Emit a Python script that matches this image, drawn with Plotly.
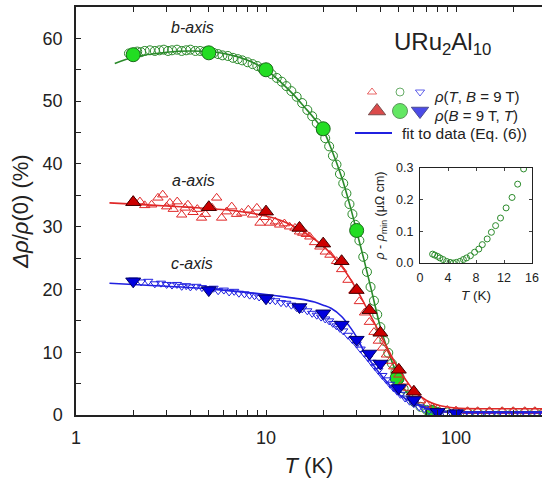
import plotly.graph_objects as go

# ---------------- data ----------------
# b-axis (green), open circles: rho(T, B = 9 T)
b_T = [1.9, 2.0, 2.1, 2.2, 2.3, 2.45, 2.6, 2.75, 2.9, 3.05, 3.2, 3.4, 3.6, 3.8, 4.0, 4.25, 4.5, 4.75,
       5.0, 5.3, 5.6, 5.9, 6.3, 6.7, 7.1, 7.5, 8.0, 8.5, 9.0, 9.5, 10.0, 10.7, 11.4, 12.1, 12.8, 13.6,
       14.5, 15.5, 16.5, 17.5, 18.5, 19.5, 20.5, 21.5, 22.5, 23.5, 24.5, 25.5, 26.5, 27.5, 28.5, 29.5,
       31, 32.5, 34, 35.5, 37, 38.5, 40, 42, 44, 46, 48, 50, 53, 56, 60, 65, 70, 75, 80, 90, 100,
       115, 130, 150, 175, 200, 230, 260, 290]
b_open = [57.6, 57.7, 57.9, 57.8, 58.0, 58.1, 58.0, 58.1, 58.2, 58.0, 58.1, 58.2, 58.0, 58.1, 58.2, 58.0,
          58.0, 57.9, 57.8, 57.7, 57.5, 57.3, 57.2, 56.9, 56.7, 56.5, 56.2, 55.9, 55.6, 55.2, 54.8, 54.3,
          53.7, 53.1, 52.4, 51.6, 50.7, 49.7, 48.6, 47.6, 46.5, 45.3, 44.1, 42.8, 41.3, 39.9, 38.4, 36.9,
          35.3, 33.6, 32.0, 30.3, 27.8, 25.2, 22.8, 20.4, 18.2, 16.0, 14.0, 11.8, 9.9, 8.2, 6.8, 5.6,
          4.2, 3.1, 2.1, 1.3, 0.8, 0.6, 0.5, 0.4, 0.4, 0.4, 0.4, 0.4, 0.4, 0.4, 0.4, 0.4, 0.4]
# b-axis filled circles: rho(B = 9 T, T)
b_T_fill = [2, 5, 10, 20, 30, 49, 75]
b_fill = [57.4, 57.7, 55.0, 45.6, 29.4, 5.9, 0.4]
# b-axis fit
b_T_fit = [1.6, 2, 3, 4, 5, 6, 7, 8, 10, 12, 14, 16, 18, 20, 22, 25, 28, 30, 33, 36, 40, 45, 50, 55,
           60, 70, 80, 100, 150, 200, 300]
b_fit = [56.0, 57.0, 57.8, 58.0, 57.9, 57.6, 57.1, 56.5, 55.0, 53.0, 51.0, 49.0, 47.2, 45.4, 42.5, 37.9,
         32.8, 29.3, 24.4, 19.7, 14.0, 9.3, 5.8, 3.6, 2.3, 1.1, 0.7, 0.5, 0.5, 0.5, 0.5]

# a-axis (red), open triangles
a_T = [2.0, 2.17, 2.3, 2.5, 2.7, 2.86, 3.0, 3.12, 3.25, 3.41, 3.6, 3.75, 3.88, 4.13, 4.35, 4.58, 4.8,
       5.2, 5.5, 5.84, 6.2, 6.6, 7.0, 7.45, 8.07, 8.5, 8.95, 9.3, 9.8, 10.5, 11.2, 11.8, 12.5, 13.3,
       14.2, 15.0, 15.6, 16.3, 17.0, 18.0, 19.2, 20.5, 21.7, 23.5, 25, 27, 29, 31, 33, 35, 37, 39, 41,
       43, 45, 47, 50, 53, 56, 60, 65, 70, 75, 80, 90, 100, 115, 130, 150, 175, 200, 230, 260, 290]
a_open = [34.2, 34.0, 33.4, 33.5, 34.6, 35.1, 33.2, 33.8, 32.8, 34.0, 31.9, 33.0, 33.5, 32.3, 32.8, 31.4,
          32.0, 33.0, 34.6, 31.4, 32.4, 33.2, 32.0, 32.2, 32.7, 31.9, 33.0, 30.6, 31.5, 30.6, 30.8, 30.3,
          30.5, 30.0, 29.8, 29.2, 29.0, 28.8, 28.4, 27.5, 26.8, 26.0, 25.5, 24.5, 23.2, 21.5, 19.8, 18.1,
          16.3, 14.8, 13.2, 11.8, 10.7, 9.6, 8.6, 7.7, 6.4, 5.3, 4.3, 3.3, 2.3, 1.6, 1.2, 1.0, 0.8, 0.7,
          0.6, 0.6, 0.6, 0.6, 0.6, 0.6, 0.6, 0.6]
a_T_fill = [2, 5, 10, 15, 20, 25, 30, 35, 40, 50, 60]
a_fill = [33.9, 33.1, 32.4, 29.8, 27.3, 24.5, 19.9, 16.7, 13.1, 7.2, 3.7]
a_T_fit = [1.5, 2, 3, 5, 7, 10, 12, 15, 18, 20, 25, 30, 35, 40, 45, 50, 60, 70, 80, 100, 150, 300]
a_fit = [33.8, 33.6, 33.3, 32.9, 32.5, 31.7, 31.0, 29.6, 28.0, 26.9, 23.7, 20.0, 16.2, 12.8, 9.8, 7.3,
         3.9, 2.3, 1.6, 1.1, 1.0, 1.0]

# c-axis (blue), open down-triangles
c_T = [2.0, 2.2, 2.4, 2.6, 2.8, 3.0, 3.2, 3.4, 3.6, 3.8, 4.0, 4.3, 4.6, 5.0, 5.3, 5.6, 6.0, 6.4, 6.8,
       7.2, 7.7, 8.2, 8.7, 9.2, 9.8, 10.5, 11.2, 12, 12.8, 13.6, 14.5, 15.5, 16.5, 17.5, 18.5, 19.5,
       20.5, 21.5, 22.5, 23.5, 24.5, 25.5, 27, 28.5, 30, 31.5, 33, 34.5, 36, 37.5, 39, 41, 43, 45, 47,
       49, 51, 54, 57, 60, 64, 68, 72, 77, 82, 88, 95, 102, 110, 118, 126, 135, 145, 155, 165, 177,
       190, 204, 218, 234, 250, 268, 287]
c_open = [21.5, 21.2, 21.3, 20.9, 21.0, 20.8, 20.7, 20.8, 20.5, 20.6, 20.4, 20.5, 20.3, 20.1, 20.2, 19.8,
          19.9, 19.6, 19.7, 19.4, 19.3, 19.1, 19.0, 18.8, 18.6, 18.3, 18.2, 17.9, 17.8, 17.5, 17.1, 16.9,
          16.6, 16.2, 15.9, 15.6, 15.3, 15.0, 14.6, 14.2, 13.8, 13.4, 12.7, 12.0, 11.3, 10.5, 9.8, 9.1,
          8.4, 7.7, 7.1, 6.3, 5.6, 4.9, 4.3, 3.8, 3.3, 2.7, 2.2, 1.8, 1.3, 1.0, 0.7, 0.5, 0.35, 0.3,
          0.25, 0.2, 0.2, 0.2, 0.2, 0.2, 0.2, 0.2, 0.2, 0.2, 0.2, 0.2, 0.2, 0.2, 0.2, 0.2, 0.2]
c_T_fill = [2, 5, 10, 15, 20, 25, 30, 35, 40, 50, 60, 80, 100]
c_fill = [21.3, 19.9, 18.6, 17.2, 16.2, 14.4, 12.0, 9.8, 8.2, 4.3, 2.4, 0.5, 0.3]
c_T_fit = [1.5, 2, 3, 5, 7, 10, 12, 15, 18, 20, 22, 25, 28, 30, 33, 36, 40, 45, 50, 60, 70, 80, 100,
           150, 300]
c_fit = [21.0, 20.8, 20.5, 20.1, 19.7, 19.2, 18.9, 18.5, 18.0, 17.5, 17.0, 15.7, 13.8, 12.4, 10.0, 8.3,
         6.5, 4.7, 3.3, 1.9, 1.0, 0.6, 0.4, 0.35, 0.35]

# inset: rho - rho_min (b-axis) vs T
ins_T = [1.8, 2.1, 2.5, 2.85, 3.3, 3.8, 4.3, 4.75, 5.2, 5.7, 6.2, 6.65, 7.2, 7.8, 8.4, 8.9, 9.6, 10.2,
         10.8, 11.5, 12.3, 13.15, 13.95, 14.8]
ins_v = [0.028, 0.025, 0.021, 0.016, 0.011, 0.005, 0.002, 0.0, 0.002, 0.005, 0.011, 0.016, 0.023, 0.034,
         0.044, 0.058, 0.076, 0.097, 0.118, 0.142, 0.174, 0.207, 0.249, 0.297]

y_ticks = [0, 10, 20, 30, 40, 50, 60]
y_minor = [5, 15, 25, 35, 45, 55, 65]
x_ticks = [1, 10, 100]
x_minor = [2, 3, 4, 5, 6, 7, 8, 9, 20, 30, 40, 50, 60, 70, 80, 90, 200]

# ---------------- styles ----------------
FONT = "Arial, Liberation Sans, sans-serif"
GREEN_D = "#2a8a2a"
GREEN_F = "#22dd22"
RED = "#e02828"
RED_F = "#cc0000"
BLUE = "#2020e0"
BLUE_F = "#0000dd"

W, H = 542, 486
L, R, T, B = 76, 0, 7, 71

fig = go.Figure()

def open_trace(x, y, sym, col, size):
    return go.Scatter(x=x, y=y, mode="markers", showlegend=False,
                      marker=dict(symbol=sym, size=size, color=col,
                                  line=dict(color=col, width=1)),
                      xaxis="x", yaxis="y")

def fill_trace(x, y, sym, col, edge, size):
    return go.Scatter(x=x, y=y, mode="markers", showlegend=False,
                      marker=dict(symbol=sym, size=size, color=col,
                                  line=dict(color=edge, width=1)),
                      xaxis="x", yaxis="y")

def fit_trace(x, y, col):
    return go.Scatter(x=x, y=y, mode="lines", showlegend=False,
                      line=dict(color=col, width=1.6, shape="spline", smoothing=0.8),
                      xaxis="x", yaxis="y")

# green
fig.add_trace(open_trace(b_T, b_open, "circle-open", GREEN_D, 9))
fig.add_trace(fit_trace(b_T_fit, b_fit, GREEN_D))
fig.add_trace(fill_trace(b_T_fill, b_fill, "circle", GREEN_F, "#1a6a1a", 14))
# red
fig.add_trace(open_trace(a_T, a_open, "triangle-up-open", RED, 9))
fig.add_trace(fit_trace(a_T_fit, a_fit, RED))
fig.add_trace(fill_trace(a_T_fill, a_fill, "triangle-up", RED_F, "#400000", 13))
# blue
fig.add_trace(open_trace(c_T, c_open, "triangle-down-open", BLUE, 8))
fig.add_trace(fit_trace(c_T_fit, c_fit, BLUE))
fig.add_trace(fill_trace(c_T_fill, c_fill, "triangle-down", BLUE_F, "#000060", 13))

# inset
fig.add_trace(go.Scatter(x=ins_T, y=ins_v, mode="markers", showlegend=False,
                         marker=dict(symbol="circle-open", size=6, color=GREEN_D,
                                     line=dict(color=GREEN_D, width=1)),
                         xaxis="x2", yaxis="y2"))

# legend glyphs on a pixel-coordinate overlay axis
leg_x = [372, 400, 420, 377, 400, 420]
leg_y = [92, 92, 92, 111, 111, 111]
leg_sym = ["triangle-up-open", "circle-open", "triangle-down-open", "triangle-up", "circle", "triangle-down"]
leg_col = [RED, GREEN_D, BLUE, RED_F, GREEN_F, BLUE_F]
leg_edge = [RED, GREEN_D, BLUE, "#400000", "#1a6a1a", "#000060"]
leg_size = [8, 8, 8, 15, 15, 15]
fig.add_trace(go.Scatter(x=leg_x, y=leg_y, mode="markers", showlegend=False,
                         marker=dict(symbol=leg_sym, size=leg_size, color=leg_col,
                                     line=dict(color=leg_edge, width=1)),
                         xaxis="x3", yaxis="y3", hoverinfo="skip"))
fig.add_trace(go.Scatter(x=[355, 392], y=[133, 133], mode="lines", showlegend=False,
                         line=dict(color=BLUE, width=1.8), xaxis="x3", yaxis="y3",
                         hoverinfo="skip"))

pw = W - L - R
ph = H - T - B
inset_x = [(420 - L) / pw, (532 - L) / pw]
inset_y = [(H - B - 263) / ph, (H - B - 168) / ph]

ann = [
    dict(text="URu<sub>2</sub>Al<sub>10</sub>", x=442, y=43, size=24),
    dict(text="<i>ρ</i>(<i>T</i>, <i>B</i> = 9 T)", x=432, y=96, xanchor="left", size=15),
    dict(text="<i>ρ</i>(<i>B</i> = 9 T, <i>T</i>)", x=432, y=115, xanchor="left", size=15),
    dict(text="fit to data (Eq. (6))", x=400, y=133, xanchor="left", size=15.5),
    dict(text="<i>b-axis</i>", x=192, y=27, size=16),
    dict(text="<i>a-axis</i>", x=193, y=180, size=16),
    dict(text="<i>c-axis</i>", x=192, y=263, size=16),
]
annotations = []
for a in ann:
    annotations.append(dict(xref="x3", yref="y3", showarrow=False,
                            xanchor=a.get("xanchor", "center"), yanchor="middle",
                            text=a["text"], x=a["x"], y=a["y"],
                            font=dict(family=FONT, color="#222222", size=a["size"])))

fig.update_layout(
    width=W, height=H,
    margin=dict(l=L, r=R, t=T, b=B, pad=0, autoexpand=False),
    paper_bgcolor="white", plot_bgcolor="rgba(0,0,0,0)",
    font=dict(family=FONT, color="#222222"),
    annotations=annotations,
    xaxis=dict(type="log", range=[0, (W - L) / 190.0], tickmode="array", tickvals=x_ticks,
               ticktext=[str(v) for v in x_ticks],
               ticks="inside", ticklen=5, tickwidth=1.2, tickcolor="#222",
               minor=dict(tickvals=x_minor, ticks="inside", ticklen=5, tickwidth=1.2,
                          tickcolor="#222", showgrid=False),
               showline=True, linecolor="#222", linewidth=1.5, mirror="ticks",
               showgrid=False, zeroline=False, tickfont=dict(size=18), automargin=False,
               ticklabelstandoff=6,
               title=dict(text="<i>T</i> (K)", font=dict(size=22), standoff=10)),
    yaxis=dict(range=[0, 65], tickmode="array", tickvals=y_ticks,
               ticks="inside", ticklen=5, tickwidth=1.2, tickcolor="#222",
               minor=dict(tickvals=y_minor, ticks="inside", ticklen=5, tickwidth=1.2,
                          tickcolor="#222", showgrid=False),
               showline=True, linecolor="#222", linewidth=1.5, mirror=False,
               showgrid=False, zeroline=False, tickfont=dict(size=18), automargin=False,
               ticklabelstandoff=8,
               title=dict(text="<i>Δρ</i>/<i>ρ</i>(0) (%)", font=dict(size=22), standoff=8)),
    xaxis2=dict(domain=inset_x, anchor="y2", range=[0, 16], tickvals=[0, 4, 8, 12, 16],
                ticks="inside", ticklen=3, showline=True, linecolor="#222", linewidth=1,
                mirror="ticks", showgrid=False, zeroline=False, tickfont=dict(size=12.5),
                automargin=False, ticklabelstandoff=3,
                title=dict(text="<i>T</i> (K)", font=dict(size=13.5), standoff=6)),
    yaxis2=dict(domain=inset_y, anchor="x2", range=[0, 0.3], tickvals=[0, 0.1, 0.2, 0.3],
                ticktext=["0.0", "0.1", "0.2", "0.3"],
                ticks="inside", ticklen=3, showline=True, linecolor="#222", linewidth=1,
                mirror="ticks", showgrid=False, zeroline=False, tickfont=dict(size=12.5),
                automargin=False, ticklabelstandoff=3,
                title=dict(text="<i>ρ</i> - <i>ρ</i><sub>min</sub> (μΩ cm)", font=dict(size=12.5),
                           standoff=8)),
    xaxis3=dict(domain=[0, 1], anchor="y3", range=[L, W - R], visible=False, fixedrange=True),
    yaxis3=dict(domain=[0, 1], anchor="x3", range=[H - B, T], visible=False, fixedrange=True),
)

fig.write_html("out.html", config={"displayModeBar": False},
               post_script="document.body.style.margin='0';document.body.style.overflow='hidden';")
